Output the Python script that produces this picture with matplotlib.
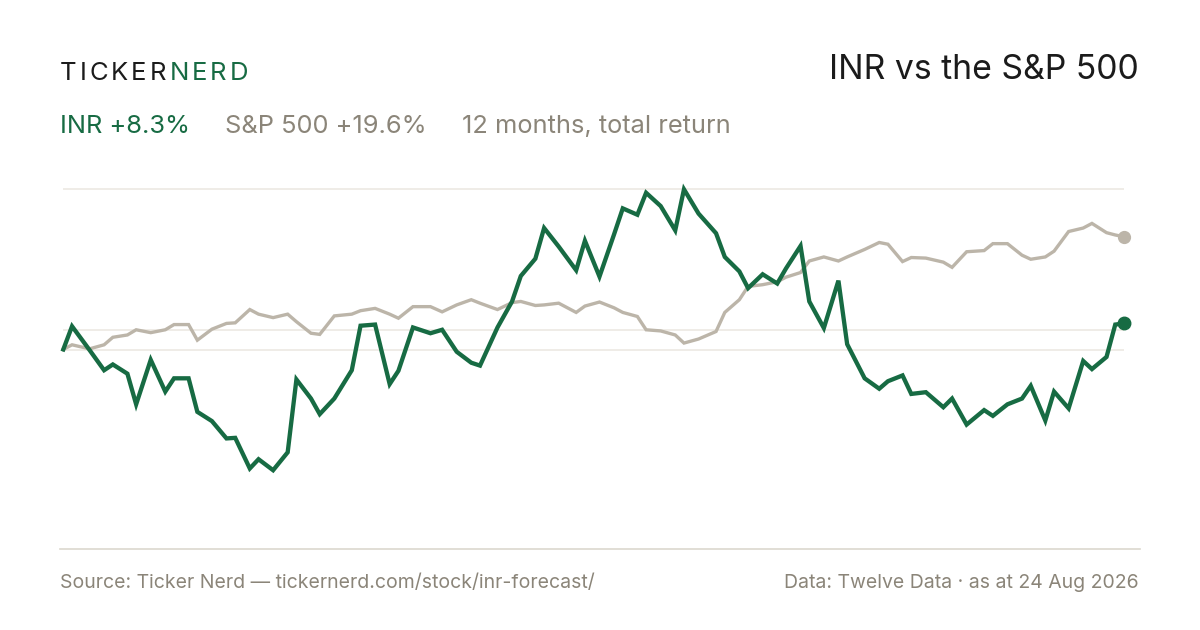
import matplotlib
matplotlib.use("Agg")
import matplotlib.pyplot as plt
from matplotlib.lines import Line2D
import pandas as pd

# --- data -------------------------------------------------------------
# every third NYSE trading day over the last 12 months, plus the latest close
start_date = "2025-08-25"
end_date = "2026-08-24"
market_holidays = ["2025-09-01", "2025-11-27", "2025-12-25", "2026-01-01",
                   "2026-01-19", "2026-02-16", "2026-04-03", "2026-05-25",
                   "2026-06-19", "2026-07-03"]

# cumulative return, %
inr_values = [0.1, 4.1, 0.0, -3.5, -2.5, -4.1, -9.4, -1.7, -7.2, -4.9,
              -4.9, -10.7, -12.3, -15.3, -15.2, -20.5, -18.9, -20.8, -17.7, -5.1,
              -8.4, -11.1, -8.4, -3.5, 4.2, 4.4, -5.9, -3.6, 3.9, 2.9,
              3.5, -0.3, -2.2, -2.7, 3.9, 8.4, 12.8, 15.8, 21.1, 17.9,
              13.8, 18.9, 12.7, 20.0, 24.5, 23.4, 27.2, 24.9, 20.7, 27.8,
              23.6, 20.2, 16.1, 13.6, 10.7, 13.1, 11.5, 14.1, 18.0, 8.4,
              3.8, 12.0, 1.0, -4.9, -6.7, -5.4, -4.4, -7.6, -7.3, -9.9,
              -8.4, -12.9, -10.4, -11.4, -9.4, -8.4, -6.2, -12.2, -7.2, -10.1,
              -1.9, -3.3, -1.2, 4.4, 4.6]
spx_values = [0.1, 0.9, 0.2, 0.9, 2.2, 2.6, 3.5, 3.0, 3.5, 4.4,
              4.4, 1.7, 3.6, 4.6, 4.7, 7.0, 6.2, 5.6, 6.2, 4.9,
              2.9, 2.7, 5.9, 6.2, 6.8, 7.2, 6.2, 5.5, 7.5, 7.5,
              6.6, 7.8, 8.7, 8.1, 7.0, 8.2, 8.4, 7.7, 7.8, 8.1,
              6.5, 7.6, 8.3, 7.3, 6.5, 5.8, 3.5, 3.3, 2.6, 1.2,
              1.9, 3.2, 6.5, 8.7, 11.0, 11.3, 11.8, 12.6, 13.4, 15.4,
              16.1, 15.4, 16.1, 17.4, 18.6, 18.3, 15.3, 16.0, 15.9, 15.2,
              14.3, 17.0, 17.2, 18.4, 18.4, 16.4, 15.7, 16.1, 17.1, 20.5,
              21.1, 21.9, 20.3, 19.9, 19.6]
grid_levels = [27.8, 3.5, 0.0]

ticker = "INR"
inr_return = "+8.3%"
spx_return = "+19.6%"
source_note = "Source: Ticker Nerd \u2014 tickernerd.com/stock/inr-forecast/"
data_note = "Data: Twelve Data \u00b7 as at 24 Aug 2026"

trading_days = pd.bdate_range(start_date, end_date, freq="C", holidays=market_holidays)
dates = list(trading_days[::3])
if dates[-1] != trading_days[-1]:
    dates.append(trading_days[-1])

# --- style ------------------------------------------------------------
GREEN = "#176b43"
GREY_LINE = "#bcb5a9"
GREY_TEXT = "#8b8579"
INK = "#1b1b1b"
GRID = "#ece9e3"
RULE = "#dcd8ce"

plt.rcParams["font.family"] = ["Inter", "DejaVu Sans"]

W, H = 1200, 630
fig = plt.figure(figsize=(W / 100, H / 100), dpi=100)
fig.patch.set_facecolor("white")


def fx(x):
    return x / W


def fy(y):
    return 1 - y / H


# plot area in pixels: data runs from x=63 to x=1124, y=150 to y=548
px_per_pct = 5.78
zero_y = 350
ax = fig.add_axes([fx(63.3), fy(548), fx(1124 - 63.3), (548 - 150) / H])
ax.set_xlim(dates[0], dates[-1])
ax.set_ylim((zero_y - 548) / px_per_pct, (zero_y - 150) / px_per_pct)
ax.axis("off")

for lvl in grid_levels:
    ax.axhline(lvl, color=GRID, lw=1.2, zorder=1)

ax.plot(dates, spx_values, color=GREY_LINE, lw=2.4, zorder=2,
        solid_joinstyle="miter", clip_on=False)
ax.plot(dates, inr_values, color=GREEN, lw=3.1, zorder=3,
        solid_joinstyle="miter", clip_on=False)
ax.plot(dates[-1], spx_values[-1], "o", color=GREY_LINE, ms=8.5, zorder=4, clip_on=False)
ax.plot(dates[-1], inr_values[-1], "o", color=GREEN, ms=9, zorder=5, clip_on=False)

# bottom rule
fig.add_artist(Line2D([fx(60), fx(1140)], [fy(548.5), fy(548.5)], color=RULE, lw=1.2))

# --- header -----------------------------------------------------------
fig.canvas.draw()
renderer = fig.canvas.get_renderer()


def spaced(x, y, text, color, size, track):
    for ch in text:
        t = fig.text(fx(x), fy(y), ch, color=color, fontsize=size, va="baseline")
        x += t.get_window_extent(renderer).width + track
    return x


x_logo = spaced(60, 80, "TICKER", INK, 18.5, 2.9)
spaced(x_logo + 1, 80, "NERD", GREEN, 18.5, 2.9)

fig.text(fx(1139), fy(79), f"{ticker} vs the S&P 500", color=INK, fontsize=24.3,
         ha="right", va="baseline")

fig.text(fx(60), fy(133), f"{ticker} {inr_return}", color=GREEN, fontsize=18.3, va="baseline")
fig.text(fx(225), fy(133), f"S&P 500 {spx_return}", color=GREY_TEXT, fontsize=18.3,
         va="baseline")
fig.text(fx(462), fy(133), "12 months, total return", color=GREY_TEXT, fontsize=18.3,
         va="baseline")

# --- footer -----------------------------------------------------------
fig.text(fx(60), fy(588), source_note, color=GREY_TEXT, fontsize=14, va="baseline")
fig.text(fx(1139), fy(588), data_note, color=GREY_TEXT, fontsize=14, ha="right",
         va="baseline")

fig.savefig("out.png", dpi=100, facecolor="white")
